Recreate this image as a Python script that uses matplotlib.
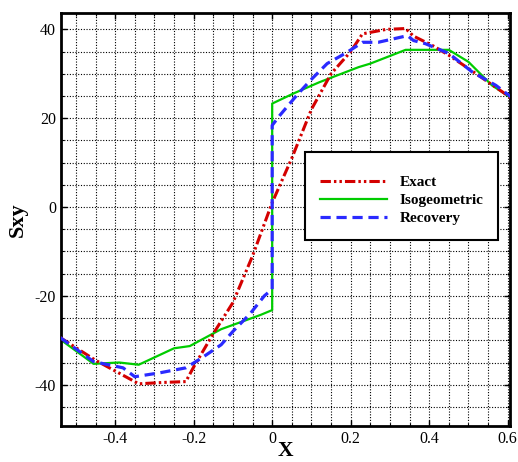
import matplotlib
matplotlib.use("Agg")
import matplotlib.pyplot as plt
from matplotlib.ticker import MultipleLocator
from matplotlib.patches import Rectangle

# values
exact_x = [-0.54, -0.45, -0.34, -0.28, -0.22, -0.2, -0.15, -0.1, -0.05, 0.0, 0.05, 0.1,
           0.15, 0.2, 0.23, 0.29, 0.34, 0.36, 0.41, 0.45, 0.52, 0.61]
exact_y = [-29.4, -34.5, -39.8, -39.5, -39.3, -36.0, -28.5, -21.5, -11.0, 1.0, 11.0, 22.0,
           30.0, 35.0, 39.0, 40.0, 40.2, 38.5, 36.3, 34.2, 30.0, 24.5]

iso_x = [-0.54, -0.455, -0.39, -0.34, -0.25, -0.21, -0.13, -0.03, 0.0, 0.0, 0.055, 0.12,
         0.22, 0.25, 0.34, 0.45, 0.5, 0.56, 0.61]
iso_y = [-29.8, -35.3, -35.0, -35.5, -31.8, -31.3, -27.5, -24.3, -23.2, 23.3, 25.6, 28.1,
         31.5, 32.3, 35.4, 35.4, 32.7, 27.4, 24.5]

rec_x = [-0.54, -0.455, -0.38, -0.35, -0.285, -0.22, -0.18, -0.13, -0.1, -0.056, -0.02,
         0.0, 0.0, 0.02, 0.063, 0.097, 0.14, 0.19, 0.23, 0.27, 0.345, 0.36, 0.39, 0.45,
         0.51, 0.57, 0.61]
rec_y = [-29.4, -34.8, -36.2, -38.2, -37.3, -36.2, -34.0, -31.0, -28.0, -24.0, -20.0,
         -18.5, 18.4, 20.7, 25.2, 28.5, 32.3, 34.8, 37.1, 37.1, 38.6, 37.5, 36.8, 34.6,
         30.4, 27.4, 24.7]

plt.rcParams['font.family'] = ['Liberation Serif', 'DejaVu Serif']

fig = plt.figure(figsize=(5.18, 4.62), dpi=100)
ax = fig.add_axes([0.1178, 0.0779, 0.8668, 0.894])

ax.plot(exact_x, exact_y, color='#d40000', lw=2.2, dashes=(3.4, 1.0, 0.8, 1.0, 0.8, 1.0),
        label='Exact', zorder=3)
ax.plot(iso_x, iso_y, color='#00cc00', lw=1.6, label='Isogeometric', zorder=2)
ax.plot(rec_x, rec_y, color='#2a2aff', lw=2.3, dashes=(3.2, 1.8), label='Recovery', zorder=4)

ax.set_xlim(-0.538, 0.606)
ax.set_ylim(-49.3, 43.7)
ax.xaxis.set_major_locator(MultipleLocator(0.2))
ax.xaxis.set_minor_locator(MultipleLocator(0.05))
ax.yaxis.set_major_locator(MultipleLocator(20))
ax.yaxis.set_minor_locator(MultipleLocator(5))
ax.xaxis.set_major_formatter(plt.FuncFormatter(lambda v, p: '0' if abs(v) < 1e-9 else ('%.1f' % v)))
ax.yaxis.set_major_formatter(plt.FuncFormatter(lambda v, p: '%d' % round(v)))

ax.grid(True, which='both', color='black', ls=(0, (1, 1.5)), lw=0.8)
ax.tick_params(which='both', direction='in', top=True, right=True, labelsize=11.5,
               color='black')
ax.tick_params(which='major', length=4, width=1)
ax.tick_params(which='minor', length=2, width=0.8)
for s in ax.spines.values():
    s.set_linewidth(2)

ax.set_xlabel('X', fontsize=15.5, fontweight='bold', labelpad=-4)
ax.set_ylabel('Sxy', fontsize=16, fontweight='bold', labelpad=5)

# legend box drawn as its own frame
box = Rectangle((0.543, 0.45), 0.43, 0.213, transform=ax.transAxes, facecolor='white',
                edgecolor='black', lw=1.5, zorder=5)
ax.add_patch(box)
leg = ax.legend(loc='upper left', bbox_to_anchor=(0.577, 0.606), frameon=False,
                prop={'weight': 'bold', 'size': 11}, handlelength=4.4,
                borderpad=0, borderaxespad=0, labelspacing=0.27, handletextpad=0.8)
leg.set_zorder(6)

fig.savefig('out.png', dpi=100)
